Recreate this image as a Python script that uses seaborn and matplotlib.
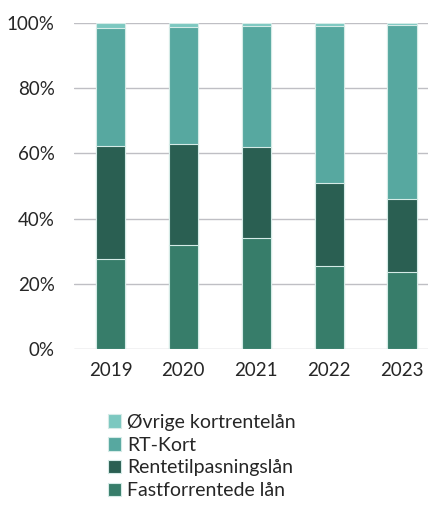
import numpy as np
import pandas as pd
import seaborn as sns
import matplotlib.pyplot as plt
from matplotlib.ticker import PercentFormatter

# Andeler av utlån per år (prosent)
years = ["2019", "2020", "2021", "2022", "2023"]
fastforrentede = [27.6, 31.9, 34.0, 25.5, 23.5]
rentetilpasning = [34.8, 31.0, 28.1, 25.5, 22.5]
rt_kort = [36.0, 36.0, 37.1, 48.2, 53.5]
ovrige = [1.6, 1.1, 0.8, 0.8, 0.5]

series = ["Fastforrentede lån", "Rentetilpasningslån", "RT-Kort", "Øvrige kortrentelån"]
colors = ["#377d6a", "#2a5f52", "#57a8a0", "#7cc8c0"]

df = pd.DataFrame({"År": years,
                   series[0]: fastforrentede,
                   series[1]: rentetilpasning,
                   series[2]: rt_kort,
                   series[3]: ovrige})

sns.set_style("white")
plt.rcParams['font.family'] = ['Lato', 'DejaVu Sans']

fig = plt.figure(figsize=(4.28, 5.07), dpi=100)
ax = fig.add_axes([74 / 428, 1 - 349 / 507, 364.5 / 428, 326 / 507])

# stablede søyler: tegn kumulative summer, øverste lag først
cum = df[series].cumsum(axis=1)
for name, col in reversed(list(zip(series, colors))):
    sns.barplot(x=df["År"], y=cum[name], color=col, saturation=1, width=0.4,
                edgecolor="#d5ebe7", linewidth=0.8, label=name, ax=ax, zorder=3)

ax.set_ylim(0, 100)
ax.set_yticks([0, 20, 40, 60, 80, 100])
ax.yaxis.set_major_formatter(PercentFormatter(decimals=0))
ax.grid(axis="y", color="#bfbfc4", linewidth=1, zorder=0)
ax.set_xlabel("")
ax.set_ylabel("")
for s in ax.spines.values():
    s.set_visible(False)
ax.tick_params(axis="both", length=0, labelsize=13.5, colors="#262626")
ax.tick_params(axis="x", pad=9)
ax.tick_params(axis="y", pad=14)

handles, labels = ax.get_legend_handles_labels()
ax.legend(handles, labels, loc="upper left", bbox_to_anchor=(100 / 428, 1 - 406 / 507),
          bbox_transform=fig.transFigure, frameon=False, fontsize=14,
          handlelength=0.7, handleheight=0.7, handletextpad=0.3,
          labelspacing=0.3, borderaxespad=0, labelcolor="#262626")

fig.savefig("out.png", dpi=100)
